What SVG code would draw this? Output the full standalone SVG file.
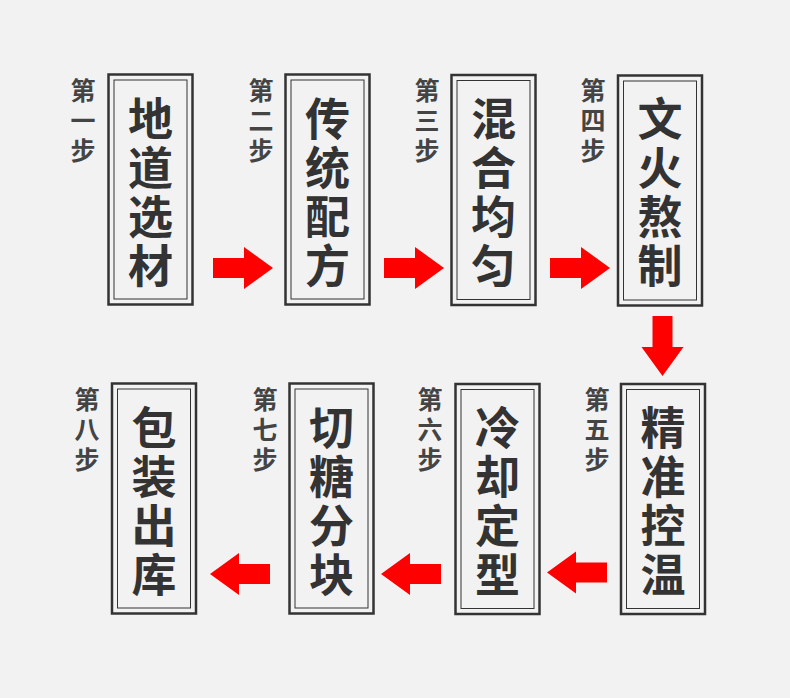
<svg xmlns="http://www.w3.org/2000/svg" xmlns:xlink="http://www.w3.org/1999/xlink" width="790" height="698" viewBox="0 0 790 698">
<style>
.outer{fill:#f2f2f2;stroke:#333;stroke-width:2.5}
.inner{fill:none;stroke:#333;stroke-width:1}
.main{font-family:"Noto Sans CJK SC","Noto Sans CJK JP",sans-serif;font-size:45px;font-weight:700;fill:#333;text-anchor:middle;dominant-baseline:central}
.step{font-family:"Noto Sans CJK SC","Noto Sans CJK JP",sans-serif;font-size:25px;font-weight:700;fill:#444;text-anchor:middle;dominant-baseline:central}
.arrow{fill:#ff0000}
</style>
<defs>
<path id="arr" d="M0,-10 L31,-10 L31,-21 L60,0 L31,21 L31,10 L0,10 Z"/>
</defs>
<rect width="790" height="698" fill="#f2f2f2"/>
<g id="connectors" class="arrow">
<use xlink:href="#arr" transform="translate(213,268)"/>
<use xlink:href="#arr" transform="translate(384,268)"/>
<use xlink:href="#arr" transform="translate(550,268)"/>
<use xlink:href="#arr" transform="translate(662.5,316) rotate(90)"/>
<use xlink:href="#arr" transform="translate(607,572.5) scale(-1,1)"/>
<use xlink:href="#arr" transform="translate(441,574) scale(-1,1)"/>
<use xlink:href="#arr" transform="translate(270,574) scale(-1,1)"/>
</g>
<g id="step1">
<rect class="outer" x="108.5" y="74.5" width="84" height="230"/>
<rect class="inner" x="114" y="80" width="73" height="219"/>
<text class="main" x="150.5"><tspan x="150.5" y="116">地</tspan><tspan x="150.5" y="165">道</tspan><tspan x="150.5" y="214">选</tspan><tspan x="150.5" y="263">材</tspan></text>
<text class="step" x="83"><tspan x="83" y="89">第</tspan><tspan x="83" y="119">一</tspan><tspan x="83" y="149">步</tspan></text>
</g>
<g id="step2">
<rect class="outer" x="285.5" y="74.5" width="84" height="230"/>
<rect class="inner" x="291" y="80" width="73" height="219"/>
<text class="main" x="327.5"><tspan x="327.5" y="116">传</tspan><tspan x="327.5" y="165">统</tspan><tspan x="327.5" y="214">配</tspan><tspan x="327.5" y="263">方</tspan></text>
<text class="step" x="261"><tspan x="261" y="89">第</tspan><tspan x="261" y="119">二</tspan><tspan x="261" y="149">步</tspan></text>
</g>
<g id="step3">
<rect class="outer" x="451.5" y="75" width="84" height="230"/>
<rect class="inner" x="457" y="80.5" width="73" height="219"/>
<text class="main" x="493.5"><tspan x="493.5" y="116">混</tspan><tspan x="493.5" y="165">合</tspan><tspan x="493.5" y="214">均</tspan><tspan x="493.5" y="263">匀</tspan></text>
<text class="step" x="427"><tspan x="427" y="89">第</tspan><tspan x="427" y="119">三</tspan><tspan x="427" y="149">步</tspan></text>
</g>
<g id="step4">
<rect class="outer" x="618" y="75.5" width="84" height="230"/>
<rect class="inner" x="623.5" y="81" width="73" height="219"/>
<text class="main" x="660"><tspan x="660" y="116">文</tspan><tspan x="660" y="165">火</tspan><tspan x="660" y="214">熬</tspan><tspan x="660" y="263">制</tspan></text>
<text class="step" x="593"><tspan x="593" y="89">第</tspan><tspan x="593" y="119">四</tspan><tspan x="593" y="149">步</tspan></text>
</g>
<g id="step5">
<rect class="outer" x="621" y="384" width="84" height="230"/>
<rect class="inner" x="626.5" y="389.5" width="73" height="219"/>
<text class="main" x="663"><tspan x="663" y="425">精</tspan><tspan x="663" y="474">准</tspan><tspan x="663" y="523">控</tspan><tspan x="663" y="572">温</tspan></text>
<text class="step" x="597"><tspan x="597" y="398">第</tspan><tspan x="597" y="428">五</tspan><tspan x="597" y="458">步</tspan></text>
</g>
<g id="step6">
<rect class="outer" x="455.5" y="384" width="84" height="230"/>
<rect class="inner" x="461" y="389.5" width="73" height="219"/>
<text class="main" x="497.5"><tspan x="497.5" y="425">冷</tspan><tspan x="497.5" y="474">却</tspan><tspan x="497.5" y="523">定</tspan><tspan x="497.5" y="572">型</tspan></text>
<text class="step" x="430"><tspan x="430" y="398">第</tspan><tspan x="430" y="428">六</tspan><tspan x="430" y="458">步</tspan></text>
</g>
<g id="step7">
<rect class="outer" x="289.5" y="383.5" width="84" height="230"/>
<rect class="inner" x="295" y="389" width="73" height="219"/>
<text class="main" x="331.5"><tspan x="331.5" y="425">切</tspan><tspan x="331.5" y="474">糖</tspan><tspan x="331.5" y="523">分</tspan><tspan x="331.5" y="572">块</tspan></text>
<text class="step" x="265"><tspan x="265" y="398">第</tspan><tspan x="265" y="428">七</tspan><tspan x="265" y="458">步</tspan></text>
</g>
<g id="step8">
<rect class="outer" x="112" y="383.5" width="84" height="230"/>
<rect class="inner" x="117.5" y="389" width="73" height="219"/>
<text class="main" x="154"><tspan x="154" y="425">包</tspan><tspan x="154" y="474">装</tspan><tspan x="154" y="523">出</tspan><tspan x="154" y="572">库</tspan></text>
<text class="step" x="87"><tspan x="87" y="398">第</tspan><tspan x="87" y="428">八</tspan><tspan x="87" y="458">步</tspan></text>
</g>
</svg>
